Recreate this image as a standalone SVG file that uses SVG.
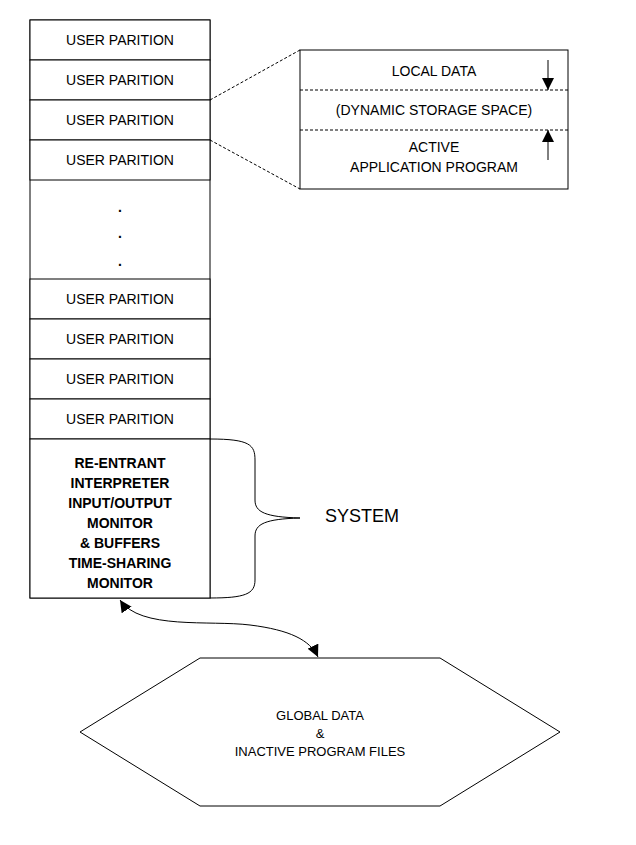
<svg xmlns="http://www.w3.org/2000/svg" width="636" height="845" viewBox="0 0 636 845">
<style>
.b{fill:#fff;stroke:#000;stroke-width:1}
.t{font-family:"Liberation Sans",Arial,sans-serif;font-size:14px;fill:#000;text-anchor:middle}
.bt{font-family:"Liberation Sans",Arial,sans-serif;font-size:14px;font-weight:bold;fill:#000;text-anchor:middle}
.d{stroke:#000;stroke-dasharray:3,2;fill:none}
.l{stroke:#000;fill:none}
</style>
<defs><marker id="ah" viewBox="0 0 10 10" refX="10" refY="5" markerWidth="12" markerHeight="12" markerUnits="userSpaceOnUse" orient="auto-start-reverse"><path d="M0,0L10,5L0,10z" fill="#000"/></marker></defs>
<rect width="636" height="845" fill="#fff"/>
<g id="col">
<rect class="b" x="30" y="20" width="180" height="578"/>
<g id="p1"><rect class="b" x="30" y="20" width="180" height="40"/><text class="t" x="120" y="45">USER PARITION</text></g>
<g id="p2"><rect class="b" x="30" y="60" width="180" height="40"/><text class="t" x="120" y="85">USER PARITION</text></g>
<g id="p3"><rect class="b" x="30" y="100" width="180" height="40"/><text class="t" x="120" y="125">USER PARITION</text></g>
<g id="p4"><rect class="b" x="30" y="140" width="180" height="40"/><text class="t" x="120" y="165">USER PARITION</text></g>
<g id="dots"><text class="bt" x="120" y="212">.</text><text class="bt" x="120" y="238">.</text><text class="bt" x="120" y="266">.</text></g>
<g id="p5"><rect class="b" x="30" y="279" width="180" height="40"/><text class="t" x="120" y="304">USER PARITION</text></g>
<g id="p6"><rect class="b" x="30" y="319" width="180" height="40"/><text class="t" x="120" y="344">USER PARITION</text></g>
<g id="p7"><rect class="b" x="30" y="359" width="180" height="40"/><text class="t" x="120" y="384">USER PARITION</text></g>
<g id="p8"><rect class="b" x="30" y="399" width="180" height="40"/><text class="t" x="120" y="424">USER PARITION</text></g>
<g id="sys"><rect class="b" x="30" y="439" width="180" height="159"/>
<text class="bt" x="120" y="468">RE-ENTRANT</text><text class="bt" x="120" y="488">INTERPRETER</text><text class="bt" x="120" y="508">INPUT/OUTPUT</text><text class="bt" x="120" y="528">MONITOR</text><text class="bt" x="120" y="548">&amp; BUFFERS</text><text class="bt" x="120" y="568">TIME-SHARING</text><text class="bt" x="120" y="588">MONITOR</text></g>
</g>
<g id="detail">
<rect class="b" x="300" y="50" width="268" height="139"/>
<line class="d" x1="300" y1="90" x2="568" y2="90"/><line class="d" x1="300" y1="130" x2="568" y2="130"/>
<text class="t" x="434" y="76">LOCAL DATA</text>
<text class="t" x="434" y="115">(DYNAMIC STORAGE SPACE)</text>
<text class="t" x="434" y="152">ACTIVE</text><text class="t" x="434" y="172">APPLICATION PROGRAM</text>
<line class="l" x1="548" y1="60" x2="548" y2="90" marker-end="url(#ah)"/>
<line class="l" x1="548" y1="160" x2="548" y2="130" marker-end="url(#ah)"/>
</g>
<g id="systemlabel"><text class="t" x="362" y="522" style="font-size:18px">SYSTEM</text></g>
<g id="store"><polygon class="b" points="80,732 200,658 440,658 560,732 440,806 200,806"/>
<text class="t" x="320" y="720" style="font-size:13px">GLOBAL DATA</text><text class="t" x="320" y="738" style="font-size:13px">&amp;</text><text class="t" x="320" y="756" style="font-size:13px">INACTIVE PROGRAM FILES</text></g>
<g id="connectors">
<line class="d" x1="210" y1="100" x2="300" y2="50"/>
<line class="d" x1="210" y1="140" x2="300" y2="189"/>
<path class="l" d="M210,439 C250,439 255,445 255,460 L255,500 C255,512 265,517 300,518 C265,519 255,524 255,536 L255,580 C255,594 245,598 210,598"/>
<path class="l" d="M120,600 C140,630 210,620 250,625 C290,630 310,640 318,657" marker-start="url(#ah)" marker-end="url(#ah)"/>
</g>
</svg>
